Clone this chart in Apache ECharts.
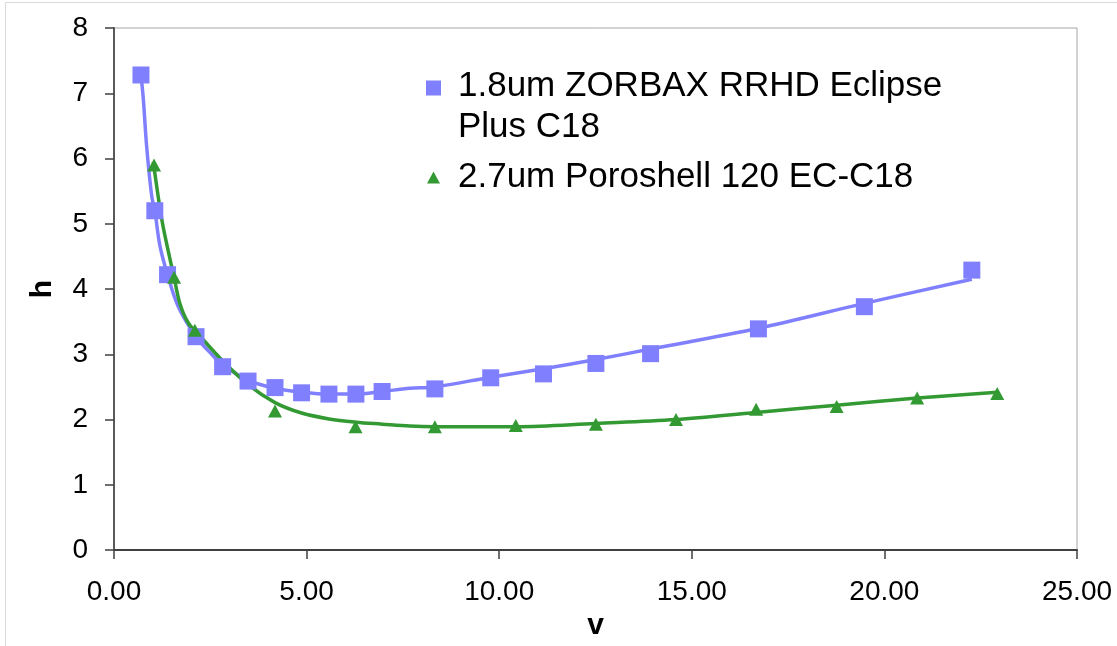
<!DOCTYPE html>
<html>
<head>
<meta charset="utf-8">
<script src="https://cdn.jsdelivr.net/npm/echarts@6/dist/echarts.min.js"></script>
<style>
html,body{margin:0;padding:0;background:#fff;}
#chart{width:1117px;height:646px;}
</style>
</head>
<body>
<div id="chart"></div>
<script>
// Series names
const nameA = '1.8um ZORBAX RRHD Eclipse Plus C18';
const nameB = '2.7um Poroshell 120 EC-C18';

// Measured points (v, h)
const aV = [0.70, 1.06, 1.39, 2.13, 2.82, 3.48, 4.18, 4.87, 5.58, 6.28, 6.96, 8.33, 9.78, 11.15, 12.51, 13.93, 16.73, 19.48, 22.27];
const aH = [7.28, 5.20, 4.22, 3.27, 2.81, 2.59, 2.49, 2.41, 2.39, 2.39, 2.43, 2.47, 2.64, 2.70, 2.86, 3.01, 3.39, 3.73, 4.29];
const bV = [1.04, 1.56, 2.10, 4.18, 6.27, 8.33, 10.43, 12.51, 14.59, 16.67, 18.76, 20.85, 22.93];
const bH = [5.90, 4.18, 3.37, 2.13, 1.89, 1.89, 1.91, 1.93, 2.00, 2.16, 2.20, 2.33, 2.40];

// Fitted curves (v, h)
const aFitV = [0.70, 0.76, 0.85, 0.98, 1.06, 1.19, 1.39, 1.67, 2.13, 2.49, 2.82, 3.49, 4.18, 4.87, 5.58, 6.28, 6.96, 7.68, 8.33, 9.78, 11.15, 12.51, 13.93, 16.73, 19.48, 22.27];
const aFitH = [7.28, 6.92, 6.17, 5.42, 5.20, 4.67, 4.22, 3.73, 3.27, 3.03, 2.84, 2.60, 2.48, 2.42, 2.39, 2.39, 2.43, 2.48, 2.50, 2.65, 2.78, 2.92, 3.08, 3.40, 3.78, 4.15];
const bFitV = [1.02, 1.24, 1.45, 1.56, 1.71, 1.93, 2.23, 2.82, 3.49, 4.18, 4.87, 5.58, 6.28, 6.96, 7.68, 8.33, 10.43, 12.51, 14.59, 16.67, 18.76, 20.85, 22.93];
const bFitH = [5.95, 5.07, 4.47, 4.18, 3.78, 3.48, 3.28, 2.90, 2.53, 2.26, 2.10, 2.01, 1.96, 1.93, 1.90, 1.89, 1.89, 1.94, 2.00, 2.11, 2.22, 2.33, 2.42];

// Axis ticks
const xTicks = [0, 5, 10, 15, 20, 25];
const yTicks = [0, 1, 2, 3, 4, 5, 6, 7, 8];

const zip = (xs, ys) => xs.map((x, i) => [x, ys[i]]);

const blue = '#8080ff';
const green = '#339933';
const font = 'Liberation Sans, Arial, sans-serif';

const chart = echarts.init(document.getElementById('chart'), null, {renderer: 'canvas'});
chart.setOption({
  backgroundColor: '#ffffff',
  animation: false,
  graphic: [{
    type: 'rect', silent: true,
    shape: {x: 5.5, y: 2.5, width: 1300, height: 800},
    style: {fill: 'none', stroke: '#d9d9d9', lineWidth: 1}
  }],
  grid: {left: 114, right: 40, top: 28, bottom: 84, show: true, borderColor: '#a6a6a6', borderWidth: 1},
  legend: [{
    left: 426, top: 66, orient: 'vertical', padding: 0,
    itemWidth: 15, itemHeight: 53,
    data: [{name: nameA, icon: 'path://M0,0L15,0L15,15L0,15Z M0,53L0,53'}],
    formatter: () => '1.8um ZORBAX RRHD Eclipse\nPlus C18',
    textStyle: {fontFamily: font, fontSize: 35, lineHeight: 41, color: '#000', padding: [0, 0, 0, 12]}
  }, {
    left: 427, top: 157, orient: 'vertical', padding: 0,
    itemWidth: 13, itemHeight: 12,
    data: [{name: nameB, icon: 'triangle'}],
    textStyle: {fontFamily: font, fontSize: 35, lineHeight: 41, color: '#000', padding: [0, 0, 0, 13]}
  }],
  xAxis: {
    type: 'value', min: xTicks[0], max: xTicks[xTicks.length - 1], interval: 5,
    name: 'v', nameLocation: 'middle', nameGap: 50,
    nameTextStyle: {fontFamily: font, fontSize: 30, fontWeight: 'bold', color: '#000'},
    axisLine: {show: true, lineStyle: {color: '#404040', width: 2}},
    axisTick: {show: true, inside: false, length: 9, lineStyle: {color: '#404040', width: 1.5}},
    axisLabel: {margin: 28, fontFamily: font, fontSize: 28, color: '#000', formatter: v => v.toFixed(2)},
    splitLine: {show: false}
  },
  yAxis: {
    type: 'value', min: yTicks[0], max: yTicks[yTicks.length - 1], interval: 1,
    name: 'h', nameLocation: 'middle', nameGap: 56,
    nameTextStyle: {fontFamily: font, fontSize: 30, fontWeight: 'bold', color: '#000'},
    axisLine: {show: true, lineStyle: {color: '#595959', width: 2}},
    axisTick: {show: true, inside: false, length: 9, lineStyle: {color: '#404040', width: 1.5}},
    axisLabel: {margin: 26, fontFamily: font, fontSize: 28, color: '#000'},
    splitLine: {show: false}
  },
  series: [
    {name: nameA + ' fit', type: 'line', data: zip(aFitV, aFitH), smooth: 0.35, showSymbol: false, symbol: 'none',
     lineStyle: {color: blue, width: 3.5}, silent: true, z: 2},
    {name: nameB + ' fit', type: 'line', data: zip(bFitV, bFitH), smooth: 0.35, showSymbol: false, symbol: 'none',
     lineStyle: {color: green, width: 3.5}, silent: true, z: 2},
    {name: nameA, type: 'scatter', data: zip(aV, aH), symbol: 'rect', symbolSize: 17,
     itemStyle: {color: blue, opacity: 1}, z: 4},
    {name: nameB, type: 'scatter', data: zip(bV, bH), symbol: 'triangle', symbolSize: [14, 13],
     itemStyle: {color: green, opacity: 1}, z: 5}
  ]
});
</script>
</body>
</html>
